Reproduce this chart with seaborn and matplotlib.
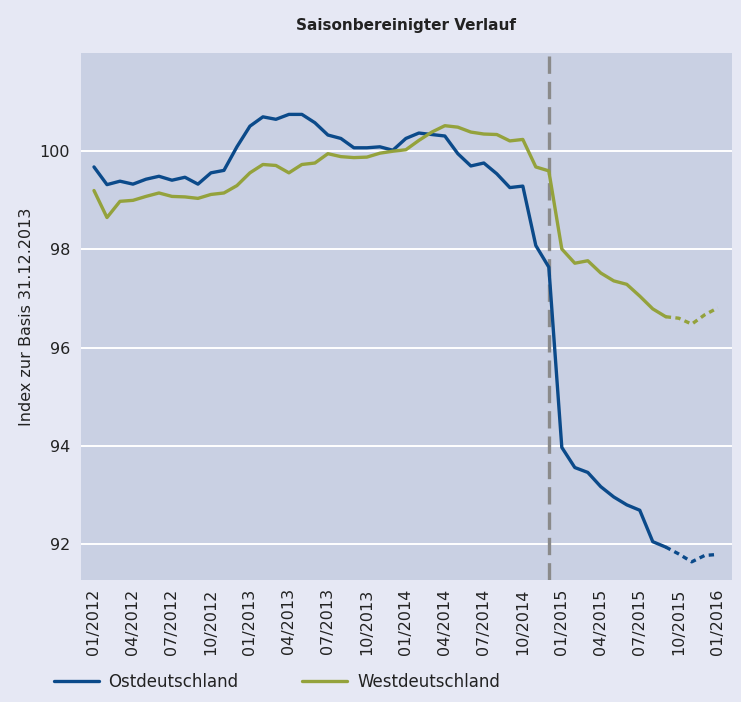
import pandas as pd
import matplotlib.pyplot as plt
import seaborn as sns

# Monthly index values, 01/2012 .. 01/2016 (49 months)
months = pd.date_range('2012-01-01', '2016-01-01', freq='MS').strftime('%m/%Y').tolist()

ost = [99.68, 99.32, 99.39, 99.33, 99.43, 99.49, 99.41, 99.47, 99.33, 99.56, 99.61, 100.09,
       100.51, 100.70, 100.65, 100.75, 100.75, 100.58, 100.33, 100.26, 100.07, 100.07, 100.09, 100.02,
       100.26, 100.37, 100.34, 100.31, 99.95, 99.70, 99.76, 99.54, 99.26, 99.29, 98.08, 97.64,
       93.97, 93.56, 93.46, 93.17, 92.96, 92.80, 92.69, 92.05, 91.94, 91.80, 91.64, 91.77, 91.79]

west = [99.20, 98.65, 98.98, 99.00, 99.08, 99.15, 99.08, 99.07, 99.04, 99.12, 99.15, 99.30,
        99.56, 99.73, 99.71, 99.56, 99.73, 99.76, 99.95, 99.89, 99.87, 99.88, 99.96, 100.00,
        100.03, 100.22, 100.39, 100.52, 100.49, 100.39, 100.35, 100.34, 100.21, 100.24, 99.68, 99.60,
        98.01, 97.72, 97.77, 97.52, 97.36, 97.29, 97.05, 96.79, 96.63, 96.60, 96.48, 96.67, 96.81]

series_names = ['Ostdeutschland', 'Westdeutschland']
series_colors = ['#0b4a8a', '#94a23c']
tick_labels = months[::3]
estimate_from = 44   # last months (dotted) are preliminary
break_month = 35     # 12/2014

df = pd.DataFrame({'t': range(len(months)), 'Ostdeutschland': ost, 'Westdeutschland': west})

sns.set_theme(style='white', rc={'axes.facecolor': '#c9d0e3', 'figure.facecolor': '#e6e8f4'})
plt.rcParams['font.family'] = ['DejaVu Sans']

fig = plt.figure(figsize=(7.41, 7.02), dpi=100)
ax = fig.add_axes([0.1093, 0.1738, 0.8786, 0.7507])

for name, col in zip(series_names, series_colors):
    solid = df[df['t'] <= estimate_from]
    dotted = df[df['t'] >= estimate_from]
    sns.lineplot(data=solid, x='t', y=name, color=col, linewidth=2.4, ax=ax, label=name)
    sns.lineplot(data=dotted, x='t', y=name, color=col, linewidth=2.4, ax=ax,
                 linestyle=(0, (1.6, 1.3)), label='_nolegend_')

ax.axvline(break_month, color='#8a8a8a', linewidth=2.4, dashes=(5.2, 2.4), zorder=1)

ax.set_xlim(-1, 49.1)
ax.set_ylim(91.27, 102)
ax.set_yticks([92, 94, 96, 98, 100])
ax.set_xticks(range(0, len(months), 3))
ax.set_xticklabels(tick_labels, rotation=90, fontsize=11.5, color='#222222')
ax.tick_params(axis='y', labelsize=11.5, labelcolor='#222222', length=0, pad=8)
ax.tick_params(axis='x', length=0, pad=6)
ax.grid(axis='y', color='white', linewidth=1.4)
ax.set_axisbelow(True)
for s in ax.spines.values():
    s.set_visible(False)

ax.set_xlabel('')
ax.set_ylabel('Index zur Basis 31.12.2013', fontsize=11.5, color='#222222', labelpad=4)
fig.text(0.548, 0.963, 'Saisonbereinigter Verlauf', ha='center', va='center', fontsize=11,
         fontweight='bold', color='#222222')

handles, labels = ax.get_legend_handles_labels()
ax.get_legend().remove()
leg = fig.legend(handles, labels, loc='lower left', bbox_to_anchor=(0.052, -0.006), ncol=2,
                 frameon=False, handlelength=2.7, handletextpad=0.6, columnspacing=3.8,
                 fontsize=12)
for t in leg.get_texts():
    t.set_color('#222222')

fig.savefig('out.png', dpi=100)
